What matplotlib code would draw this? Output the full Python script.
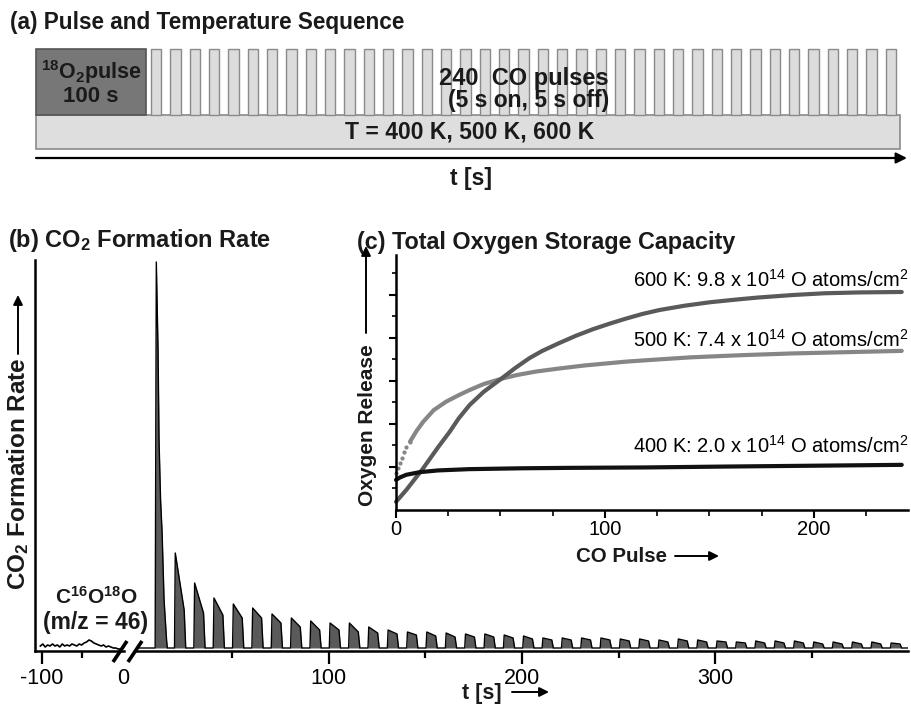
import matplotlib
matplotlib.use("Agg")
import matplotlib.pyplot as plt
from matplotlib.patches import Rectangle
import numpy as np

plt.rcParams['font.family'] = ['Liberation Sans', 'DejaVu Sans']
plt.rcParams['mathtext.fontset'] = 'custom'
plt.rcParams['mathtext.rm'] = 'Liberation Sans'
plt.rcParams['mathtext.bf'] = 'Liberation Sans:bold'
plt.rcParams['mathtext.default'] = 'rm'
plt.rcParams['axes.unicode_minus'] = False

W, H = 912, 704

# (a) pulse / temperature sequence
temperatures = [400, 500, 600]
o2_pulse_s = 100
co_pulses = 240
pulse_on_s, pulse_off_s = 5, 5
drawn_pulse_bars = 39

# (b) CO2 formation rate, arb. units, one entry per CO pulse
first_pulse_start = 10.4
pulse_peak = [389, 98, 68, 53, 47, 43, 37, 33, 30, 28, 28, 24, 21, 19, 19,
              18, 17, 17, 16, 15, 13, 13, 13, 13, 12, 12, 11, 12, 11, 10,
              9, 10, 10, 10, 9, 9, 9, 9, 8]
pulse_end = [11, 41, 38, 36, 33, 33, 28, 24, 21, 21, 19, 18, 17, 16, 15,
             14, 14, 14, 13, 12, 11, 11, 11, 11, 10, 10, 9, 10, 9, 9,
             8, 8, 8, 8, 7, 7, 7, 7, 7]
first_pulse_t = [0, 0.6, 1.5, 2.0, 2.8, 3.6, 4.6, 5.9, 6.3]
first_pulse_v = [3, 389, 300, 211, 151, 118, 51, 11, 3]
baseline = 3

# C16O18O trace during the 18O2 pulse
mz46_t = [-102, -99, -96, -93, -90, -87, -84, -81, -78, -75, -72, -69, -66,
          -63, -60, -57, -54, -51, -48, -45, -42, -39, -36, -33, -30, -27,
          -24, -21, -18, -15, -12, -9, -6, -3]
mz46_v = [5, 7, 4, 6, 5, 7, 5, 6, 4, 7, 5, 6, 5, 7, 6, 5, 7, 6, 8, 9, 11,
          10, 8, 7, 6, 5, 6, 4, 5, 4, 3, 3, 2, 2]

# (c) cumulative oxygen release vs CO pulse number
pulse_600 = [0, 5, 13, 20, 25.7, 30, 35.2, 42, 50.3, 57, 63.8, 70, 78, 86,
             94, 102, 110, 118, 126, 138, 150, 162, 173, 190, 205, 222, 242]
release_600 = [0.19, 0.47, 0.97, 1.45, 1.82, 2.13, 2.44, 2.75, 3.05, 3.30,
               3.53, 3.70, 3.88, 4.05, 4.20, 4.33, 4.45, 4.56, 4.65, 4.75,
               4.83, 4.89, 4.94, 5.00, 5.04, 5.06, 5.07]
pulse_500 = [0, 1, 2, 3, 4, 5, 6.7, 10, 13, 18, 24, 30, 35.2, 42, 50.3, 58,
             67, 78, 90, 110, 125, 141, 165, 189, 215, 242]
release_500 = [0.86, 0.98, 1.10, 1.22, 1.35, 1.47, 1.59, 1.85, 2.05, 2.32,
               2.52, 2.67, 2.79, 2.93, 3.05, 3.14, 3.22, 3.29, 3.36, 3.45,
               3.50, 3.55, 3.60, 3.64, 3.67, 3.70]
pulse_400 = [0, 2, 5, 11.4, 20, 35, 60, 83, 120, 157, 200, 242]
release_400 = [0.70, 0.76, 0.82, 0.88, 0.92, 0.95, 0.97, 0.98, 0.99, 1.01,
               1.03, 1.05]
capacity = {400: 2.0, 500: 7.4, 600: 9.8}

fig = plt.figure(figsize=(W / 100, H / 100), dpi=100)


def px_axes(x0, y0, x1, y1):
    return fig.add_axes([x0 / W, 1 - y1 / H, (x1 - x0) / W, (y1 - y0) / H])


# ---------------- (b) ----------------
ax_l = px_axes(35, 260, 124, 651)
ax_r = px_axes(136, 260, 908, 651)
for ax in (ax_l, ax_r):
    ax.set_ylim(0, 391)
    ax.set_yticks([])
    ax.patch.set_alpha(0)
    for s in ('top', 'right'):
        ax.spines[s].set_visible(False)
    ax.spines['bottom'].set_linewidth(1.8)
    ax.tick_params(axis='x', which='major', direction='out', length=9,
                   width=1.6, labelsize=15.5, pad=3)
    ax.tick_params(axis='x', which='minor', direction='out', length=5,
                   width=1.6)
ax_l.spines['left'].set_linewidth(1.8)
ax_r.spines['left'].set_visible(False)

ax_l.set_xlim(-108.6, 1.2)
ax_l.set_xticks([-100, 0])
ax_l.set_xticks([-50], minor=True)
ax_l.xaxis.get_major_ticks()[1].tick1line.set_visible(False)
ax_l.plot(mz46_t, mz46_v, color='black', lw=1.2)

ax_r.set_xlim(0.5, 399.5)
ax_r.set_xticks([100, 200, 300])
ax_r.set_xticks([50, 150, 250, 350], minor=True)

t_all, v_all = [0.5], [baseline]
for k, (pk, en) in enumerate(zip(pulse_peak, pulse_end)):
    s = first_pulse_start + k * (pulse_on_s + pulse_off_s)
    if k == 0:
        t_all += [s + dt for dt in first_pulse_t]
        v_all += first_pulse_v
    else:
        t_all += [s, s + 0.4, s + 5.0, s + 5.8]
        v_all += [baseline, pk, en, baseline]
t_all.append(399.5)
v_all.append(baseline)
ax_r.fill_between(t_all, baseline, v_all, color='#5a5a5a', lw=0)
ax_r.plot(t_all, v_all, color='black', lw=1.0)

# ---------------- (c) ----------------
ax_c = px_axes(396, 255, 908, 510)
ax_c.patch.set_alpha(0)
ax_c.set_xlim(0, 245)
ax_c.set_ylim(0, 5.93)
for s in ('top', 'right'):
    ax_c.spines[s].set_visible(False)
for s in ('left', 'bottom'):
    ax_c.spines[s].set_linewidth(1.8)
ax_c.set_xticks([0, 100, 200])
ax_c.set_xticks([25, 50, 75, 125, 150, 175, 225], minor=True)
ax_c.set_yticks([1, 2, 3, 4, 5])
ax_c.set_yticks(np.arange(0.5, 5.6, 1.0), minor=True)
ax_c.set_yticklabels([])
ax_c.tick_params(axis='x', which='major', length=6, width=1.5,
                 labelsize=14.5, pad=1.5)
ax_c.tick_params(axis='x', which='minor', length=4, width=1.2)
ax_c.tick_params(axis='y', which='major', length=5, width=1.5)
ax_c.tick_params(axis='y', which='minor', length=3, width=1.2)

ax_c.plot(pulse_500[6:], release_500[6:], color='#868686', lw=3,
          solid_capstyle='round')
ax_c.plot(pulse_500[:7], release_500[:7], 'o', color='#868686', ms=3,
          mew=0, clip_on=False)
ax_c.plot(pulse_600, release_600, color='#5a5a5a', lw=3,
          solid_capstyle='round', clip_on=False)
ax_c.plot(pulse_400, release_400, color='#111111', lw=3,
          solid_capstyle='round', clip_on=False)

# ---------------- overlay: panel (a), titles, arrows ----------------
ov = fig.add_axes([0, 0, 1, 1])
ov.set_xlim(0, W)
ov.set_ylim(H, 0)
ov.axis('off')
ov.set_zorder(10)

bold = dict(fontweight='bold', color='#1a1a1a')

ov.text(10, 22, "(a) Pulse and Temperature Sequence", fontsize=16.3,
        va='center', **bold)
ov.add_patch(Rectangle((36, 115), 864, 34, fc='#dedede', ec='#8a8a8a',
                       lw=1.2))
ov.add_patch(Rectangle((36, 49), 110, 66, fc='#777777', ec='#555555',
                       lw=1.2))
for k in range(drawn_pulse_bars):
    ov.add_patch(Rectangle((151 + k * 19.33, 49), 10.5, 66, fc='#dcdcdc',
                           ec='#8a8a8a', lw=1.0))
ov.annotate('', xy=(907, 158), xytext=(36, 158),
            arrowprops=dict(arrowstyle='-|>', color='black', lw=1.6,
                            mutation_scale=16, shrinkA=0, shrinkB=0))
ov.text(91, 72, r"$^{\mathbf{18}}\mathbf{O}_{\mathbf{2}}$pulse",
        fontsize=15.5, ha='center', va='center', **bold)
ov.text(91, 97, f"{o2_pulse_s} s", fontsize=16, ha='center', va='center',
        **bold)
ov.text(609, 79, f"{co_pulses}  CO pulses", fontsize=17, ha='right',
        va='center', **bold)
ov.text(609, 101, f"({pulse_on_s} s on, {pulse_off_s} s off)",
        fontsize=16.5, ha='right', va='center', **bold)
ov.text(470, 132, "T = " + ", ".join(f"{T} K" for T in temperatures),
        fontsize=16.5, ha='center', va='center', **bold)
ov.text(471, 179, "t [s]", fontsize=16.5, ha='center', va='center', **bold)

# (b) labels
ov.text(8, 241, r"(b) CO$_{\mathbf{2}}$ Formation Rate", fontsize=17,
        va='center', **bold)
ov.text(18, 474, r"CO$_{\mathbf{2}}$ Formation Rate", fontsize=17.5,
        rotation=90, ha='center', va='center', **bold)
arrow = dict(arrowstyle='-|>', color='black', lw=1.4, mutation_scale=14,
             shrinkA=0, shrinkB=0)
ov.annotate('', xy=(18, 295), xytext=(18, 354), arrowprops=arrow)
ov.text(96, 597, r"C$^{\mathbf{16}}$O$^{\mathbf{18}}$O", fontsize=15,
        ha='center', va='center', **bold)
ov.text(96, 622, "(m/z = 46)", fontsize=16.5, ha='center', va='center',
        **bold)
ov.text(482, 694, "t [s]", fontsize=15.5, ha='center', va='center', **bold)
ov.annotate('', xy=(549, 692), xytext=(512, 692), arrowprops=arrow)
# axis break
for x0 in (113, 128):
    ov.plot([x0, x0 + 14], [662, 641], color='black', lw=2.6,
            solid_capstyle='butt')

# (c) labels
ov.text(357, 242, "(c) Total Oxygen Storage Capacity", fontsize=16.8,
        va='center', **bold)
ov.text(368, 425, "Oxygen Release", fontsize=15, rotation=90, ha='center',
        va='center', **bold)
ov.annotate('', xy=(366, 246), xytext=(366, 333), arrowprops=arrow)
ov.text(622, 556, "CO Pulse", fontsize=14.8, ha='center', va='center',
        **bold)
ov.annotate('', xy=(719, 556), xytext=(675, 556), arrowprops=arrow)
for T, yy in zip([600, 500, 400], [280, 340, 446]):
    ov.text(908, yy, f"{T} K: {capacity[T]:.1f} x 10$^{{14}}$ O atoms/cm$^2$",
            fontsize=14.5, ha='right', va='center', color='black')

fig.savefig("out.png", dpi=100)
